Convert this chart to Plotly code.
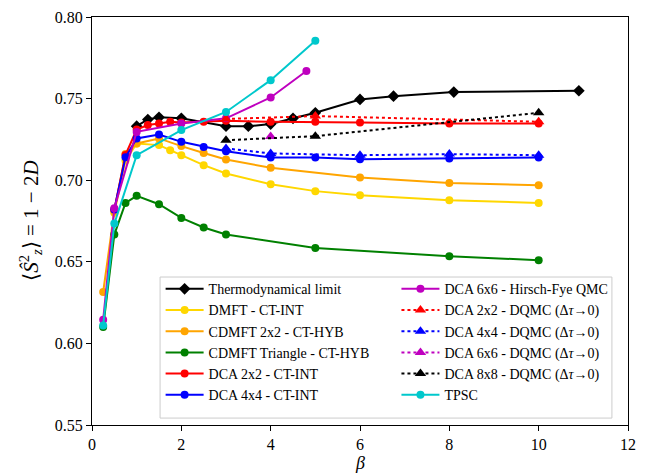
import plotly.graph_objects as go

# ---- data (beta, <Sz^2>) ----
thermo_b = [1, 1.25, 1.5, 2, 3, 3.5, 4, 4.5, 5, 6, 6.75, 8.1, 10.9]
thermo_v = [0.7331, 0.7372, 0.7385, 0.7379, 0.7331, 0.7331, 0.7344, 0.7379, 0.7413, 0.7495, 0.7515, 0.7540, 0.7548]

dmft_b = [0.5, 0.75, 1, 1.5, 1.75, 2, 2.5, 3, 4, 5, 6, 8, 10]
dmft_v = [0.680, 0.712, 0.7225, 0.7215, 0.7184, 0.7153, 0.7092, 0.7041, 0.6975, 0.6933, 0.6908, 0.6877, 0.6861]

cdmft_b = [0.25, 0.5, 0.75, 1, 1.5, 2, 2.5, 3, 4, 6, 8, 10]
cdmft_v = [0.6315, 0.681, 0.716, 0.7225, 0.7256, 0.7209, 0.7167, 0.7127, 0.7076, 0.7017, 0.6983, 0.6969]

tri_b = [0.25, 0.5, 0.75, 1, 1.5, 2, 2.5, 3, 5, 8, 10]
tri_v = [0.6100, 0.6667, 0.6861, 0.6904, 0.6853, 0.6769, 0.6710, 0.6667, 0.6585, 0.6534, 0.6510]

dca2_b = [0.5, 0.75, 1, 1.25, 1.5, 1.75, 2, 2.5, 3, 4, 5, 6, 8, 10]
dca2_v = [0.682, 0.7155, 0.7310, 0.7338, 0.7348, 0.7358, 0.7354, 0.7358, 0.7364, 0.7358, 0.7358, 0.7354, 0.7348, 0.7348]

dca4_b = [0.5, 0.75, 1, 1.5, 2, 2.5, 3, 4, 5, 6, 8, 10]
dca4_v = [0.682, 0.7140, 0.7256, 0.7280, 0.7235, 0.7204, 0.7177, 0.7139, 0.7139, 0.7129, 0.7133, 0.7139]

hf6_b = [0.25, 0.5, 1, 2, 3, 4, 4.8]
hf6_v = [0.6145, 0.6828, 0.7296, 0.7348, 0.7379, 0.7507, 0.7669]

dq2_b = [3, 5, 10]
dq2_v = [0.7375, 0.7393, 0.7358]

dq4_b = [3, 4, 6, 8, 10]
dq4_v = [0.7195, 0.7164, 0.7153, 0.7160, 0.7153]

dq6_b = [4]
dq6_v = [0.7268]

dq8_b = [3, 5, 10]
dq8_v = [0.7245, 0.7270, 0.7413]

tpsc_b = [0.25, 0.5, 1, 2, 3, 4, 5]
tpsc_v = [0.611, 0.6734, 0.7153, 0.7307, 0.7418, 0.7613, 0.7855]

x_ticks = [0, 2, 4, 6, 8, 10, 12]
y_ticks = [0.55, 0.60, 0.65, 0.70, 0.75, 0.80]

FONT = "Liberation Serif, Times New Roman, serif"

series = [
    # name, x, y, color, symbol, dash, legend
    ("Thermodynamical limit", thermo_b, thermo_v, "#000000", "diamond", "solid", "legend"),
    ("DMFT - CT-INT", dmft_b, dmft_v, "#FFD700", "circle", "solid", "legend"),
    ("CDMFT 2x2 - CT-HYB", cdmft_b, cdmft_v, "#FFA500", "circle", "solid", "legend"),
    ("CDMFT Triangle - CT-HYB", tri_b, tri_v, "#008000", "circle", "solid", "legend"),
    ("DCA 2x2 - CT-INT", dca2_b, dca2_v, "#FF0000", "circle", "solid", "legend"),
    ("DCA 4x4 - CT-INT", dca4_b, dca4_v, "#0000FF", "circle", "solid", "legend"),
    ("DCA 6x6 - Hirsch-Fye QMC", hf6_b, hf6_v, "#BF00BF", "circle", "solid", "legend2"),
    ("DCA 2x2 - DQMC (Δ<i>τ</i>→0)", dq2_b, dq2_v, "#FF0000", "triangle-up", "dot", "legend2"),
    ("DCA 4x4 - DQMC (Δ<i>τ</i>→0)", dq4_b, dq4_v, "#0000FF", "triangle-up", "dot", "legend2"),
    ("DCA 6x6 - DQMC (Δ<i>τ</i>→0)", dq6_b, dq6_v, "#BF00BF", "triangle-up", "dot", "legend2"),
    ("DCA 8x8 - DQMC (Δ<i>τ</i>→0)", dq8_b, dq8_v, "#000000", "triangle-up", "dot", "legend2"),
    ("TPSC", tpsc_b, tpsc_v, "#00C8CC", "circle", "solid", "legend2"),
]

fig = go.Figure()
for i, (name, xs, ys, col, sym, dash, leg) in enumerate(series):
    msize = 9 if sym == "diamond" else (10 if sym == "triangle-up" else 8)
    fig.add_trace(go.Scatter(
        x=xs, y=ys, name=name, mode="lines+markers",
        line=dict(color=col, width=2, dash=dash),
        marker=dict(color=col, symbol=sym, size=msize),
        legend=leg, legendgroup=f"g{i}",
    ))

axis_common = dict(
    showgrid=False, zeroline=False, showline=True, linecolor="black", linewidth=1,
    mirror=True, ticks="outside", ticklen=5, tickcolor="black", automargin=False,
    tickfont=dict(family=FONT, size=16, color="black"),
)

leg_common = dict(
    orientation="v", yanchor="top", xanchor="left",
    bgcolor="rgba(0,0,0,0)", borderwidth=0,
    font=dict(family=FONT, size=14, color="black"),
    itemwidth=38, traceorder="normal",
)

fig.update_layout(
    width=650, height=475,
    margin=dict(l=92, r=22, t=17, b=50, autoexpand=False),
    paper_bgcolor="white", plot_bgcolor="white",
    font=dict(family=FONT, color="black"),
    xaxis=dict(range=[0, 12], tickvals=x_ticks, **axis_common),
    yaxis=dict(range=[0.55, 0.80], tickvals=y_ticks, tickformat=".2f", **axis_common),
    legend=dict(x=0.128, y=0.372, tracegroupgap=0, **leg_common),
    legend2=dict(x=0.568, y=0.372, tracegroupgap=3.5, **leg_common),
    shapes=[dict(type="rect", xref="paper", yref="paper",
                 x0=0.127, x1=0.970, y0=0.017, y1=0.3627,
                 line=dict(color="#cccccc", width=1),
                 fillcolor="rgba(255,255,255,0.85)", layer="above")],
    annotations=[
        dict(text="⟨<i>Ŝ</i><sup>2</sup><sub><i>z</i></sub>⟩ = 1 − 2<i>D</i>",
             xref="paper", yref="paper", x=-0.116, y=0.5,
             xanchor="center", yanchor="middle", textangle=-90, showarrow=False,
             font=dict(family=FONT, size=21, color="black")),
        dict(text="<i>β</i>", xref="paper", yref="paper", x=0.5, y=-0.064,
             xanchor="center", yanchor="top", showarrow=False,
             font=dict(family=FONT, size=18, color="black")),
    ],
    showlegend=True,
)

fig.write_html("out.html")
